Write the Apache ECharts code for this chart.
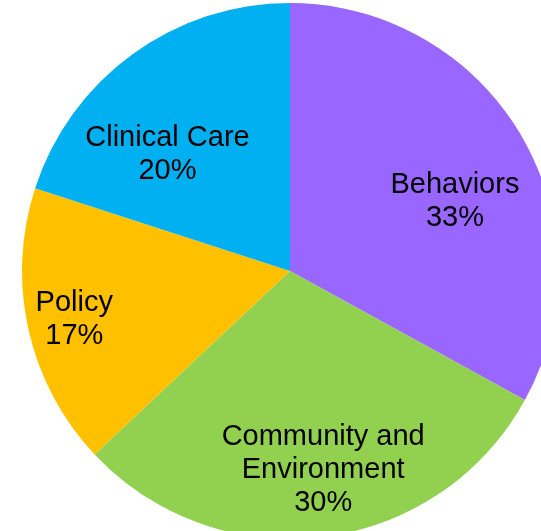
<!DOCTYPE html>
<html>
<head>
<meta charset="utf-8">
<script src="https://cdn.jsdelivr.net/npm/echarts@6/dist/echarts.min.js"></script>
<style>
  html, body { margin: 0; padding: 0; background: #fff; }
  #chart { width: 541px; height: 531px; }
</style>
</head>
<body>
<div id="chart"></div>
<script>
// slice data, clockwise from 12 o'clock
const categories = ['Behaviors', 'Community and\nEnvironment', 'Policy', 'Clinical Care']
const values = [33, 30, 17, 20]
const colors = ['#9966ff', '#92d050', '#ffc000', '#00b0f0']

// nudges so labels sit where the original puts them
const labelShift = [[47, 0], [16, 63], [-82, 19], [-42, -6]]

const chart = echarts.init(document.getElementById('chart'))
chart.setOption({
  animation: false,
  series: [{
    type: 'pie',
    center: [290, 271],
    radius: 268,
    startAngle: 90,
    clockwise: true,
    itemStyle: { borderWidth: 0 },
    label: {
      show: true,
      position: 'inside',
      formatter: p => p.name + '\n' + p.value + '%',
      color: '#000',
      fontFamily: 'Liberation Sans, Arial, sans-serif',
      fontSize: 29,
      lineHeight: 33,
      align: 'center'
    },
    labelLine: { show: false },
    labelLayout: p => ({ dx: labelShift[p.dataIndex][0], dy: labelShift[p.dataIndex][1] }),
    emphasis: { disabled: true },
    data: categories.map((name, i) => ({
      name: name,
      value: values[i],
      itemStyle: { color: colors[i] }
    }))
  }]
})
</script>
</body>
</html>
